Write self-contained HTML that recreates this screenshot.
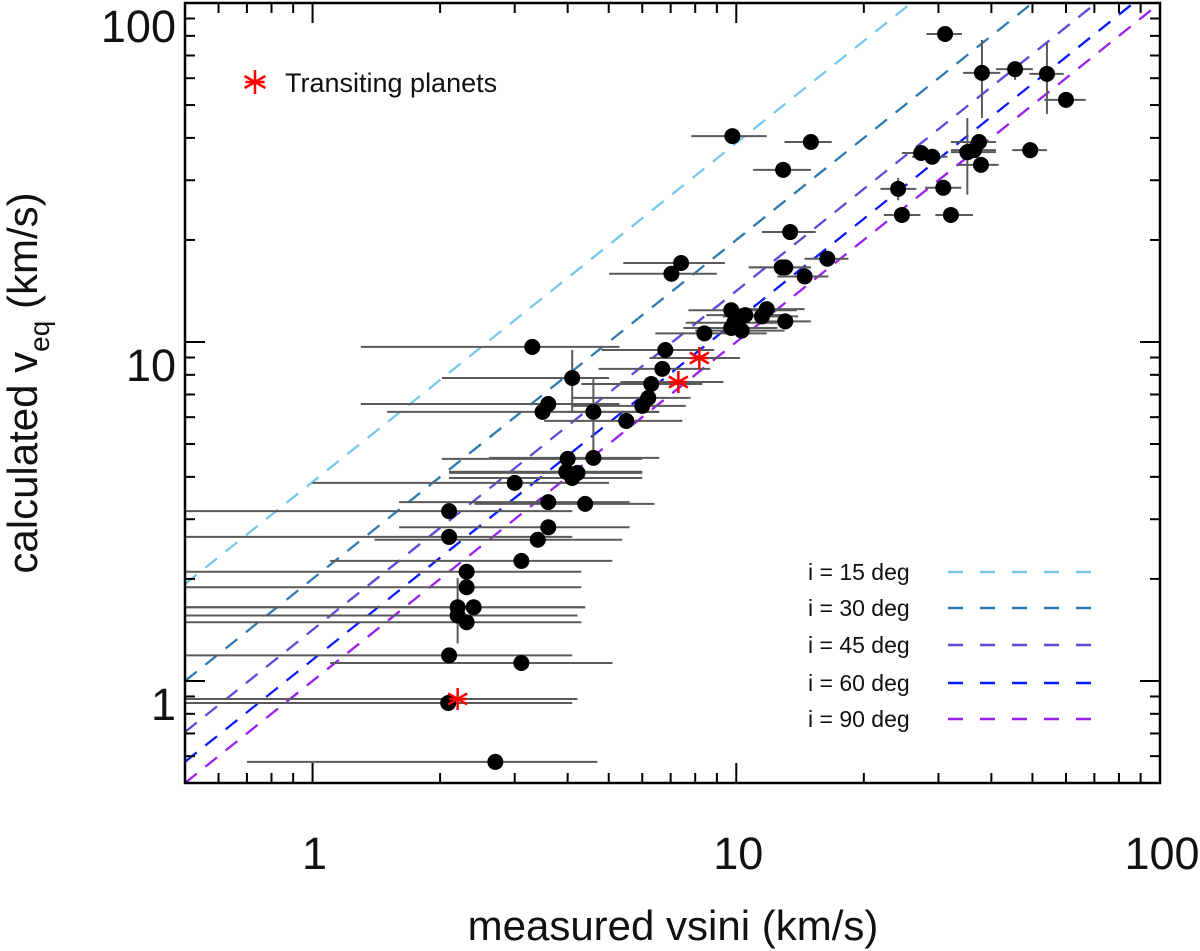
<!DOCTYPE html>
<html><head><meta charset="utf-8"><style>
html,body{margin:0;padding:0;background:#fff;}
svg{display:block;font-family:"Liberation Sans",sans-serif;}
</style></head><body>
<svg id="chart" width="1200" height="951" viewBox="0 0 1200 951" xmlns="http://www.w3.org/2000/svg">
<g id="lines"></g>
<g id="errs"></g>
<g id="pts"></g>
<g id="axes"></g>
<g id="legend"></g>
<text x="673" y="940" font-size="42" text-anchor="middle" fill="#111">measured vsini (km/s)</text>
<text transform="translate(37,383) rotate(-90)" font-size="42" text-anchor="middle" fill="#111">calculated v<tspan font-size="28" dy="12">eq</tspan><tspan dy="-12"> (km/s)</tspan></text>
</svg>
<script>
// data
const vsini   = [3.30,4.10,3.60,3.49,4.60,5.50,4.00,4.60,3.97,4.22,4.10,3.00,3.60,4.40,2.10,3.60,2.10,3.40,3.11,2.31,2.31,2.20,2.40,2.20,2.31,2.10,3.11,2.09,2.70,
  9.79,15.0,12.9,13.4,7.41,7.03,16.4,12.8,13.05,14.5,9.73,10.5,11.8,11.5,13.05,9.89,9.73,10.3,8.41,6.80,6.69,6.30,6.20,6.00,
  31.1,38.0,45.5,54.1,60.0,37.4,36.4,35.1,37.8,49.4,27.3,29.0,24.1,30.8,24.6,32.1];
const veq     = [9.67,7.83,6.56,6.22,6.22,5.85,4.52,4.55,4.14,4.11,3.97,3.84,3.37,3.33,3.17,2.84,2.66,2.61,2.26,2.10,1.89,1.65,1.65,1.56,1.49,1.19,1.13,0.861,0.577,
  40.5,38.9,32.2,21.1,17.1,15.9,17.6,16.6,16.6,15.6,12.4,12.0,12.5,11.9,11.5,11.4,11.0,10.8,10.6,9.47,8.33,7.52,6.84,6.48,
  81.0,62.2,63.8,61.8,51.8,38.9,36.8,36.3,33.3,36.8,36.1,35.2,28.3,28.5,23.7,23.7];
const vsiniLo = [1.30,2.02,1.30,1.50,4.00,3.52,2.02,2.61,2.10,2.10,2.10,1.00,1.60,2.41,0.50,1.60,0.50,1.40,1.10,0.50,0.50,0.50,0.50,0.50,0.50,0.50,1.10,0.50,0.70,
  7.83,13.0,10.96,11.5,5.41,5.01,14.5,10.7,10.7,12.5,7.71,8.5,9.5,9.3,11.1,7.6,7.5,8.0,6.44,4.81,4.73,4.31,4.10,4.10,
  28.1,34.3,41.0,49.2,53.3,32.1,32.1,32.1,33.4,44.8,24.6,26.0,21.9,27.9,22.3,29.5];
const vsiniHi = [5.30,5.01,5.30,6.58,6.58,7.46,6.00,6.58,6.00,6.00,6.00,5.01,5.60,6.41,4.10,5.60,4.10,5.38,5.10,4.31,4.31,4.40,4.40,4.22,4.31,4.10,5.10,4.10,4.70,
  11.8,16.8,15.0,15.4,9.40,9.00,18.4,15.0,15.0,16.5,13.9,13.0,14.5,14.0,15.0,12.5,12.5,13.0,11.8,8.87,8.68,8.32,7.80,7.60,
  34.1,42.0,50.1,59.3,66.8,41.0,41.0,41.0,41.6,54.1,29.5,31.5,26.6,34.0,27.2,36.2];
const veqLo   = [null,6.22,null,null,4.55,null,null,null,null,null,null,null,null,null,null,null,null,null,null,null,null,1.29,null,null,null,null,null,null,null,
  null,null,null,null,null,null,null,null,null,null,null,null,null,null,null,null,null,null,null,null,null,null,null,null,
  null,45.8,59.3,47.1,null,null,null,27.2,null,null,null,null,26.2,null,null,null];
const veqHi   = [null,9.47,null,null,7.83,null,null,null,null,null,null,null,null,null,null,null,null,null,null,null,null,2.01,null,null,null,null,null,null,null,
  null,null,null,null,null,null,null,null,null,null,null,null,null,null,null,null,null,null,null,null,null,null,null,null,
  null,77.8,67.0,76.2,null,null,null,45.8,null,null,null,null,30.5,null,null,null];
const starVsini = [2.20,8.18,7.30];
const starVeq   = [0.885,8.97,7.62];
const starLo    = [0.50,6.24,5.33];
const starHi    = [4.22,10.2,9.32];
const incl = [15,30,45,60,90];
const inclColors = ["#78c8ea","#2f78b0","#6048d8","#0a1aff","#9a1ff0"];
const xTicks = [1,10,100];
const yTicks = [1,10,100];
const xTickLabels = ["1","10","100"];
const yTickLabels = ["1","10","100"];

const L=185,R=1160,T=3,B=783, XMIN=0.5,XMAX=100,YMIN=0.5,YMAX=100;
const lx=v=>L+(Math.log10(v)-Math.log10(XMIN))/(Math.log10(XMAX)-Math.log10(XMIN))*(R-L);
const ly=v=>B-(Math.log10(v)-Math.log10(YMIN))/(Math.log10(YMAX)-Math.log10(YMIN))*(B-T);
const NS="http://www.w3.org/2000/svg";
function mk(tag,parent,attrs){const e=document.createElementNS(NS,tag);for(const k in attrs)e.setAttribute(k,attrs[k]);parent.appendChild(e);return e;}

const gl=document.getElementById('lines');
incl.forEach((d,i)=>{
  const s=Math.sin(d*Math.PI/180);
  let x0=XMIN, y0=XMIN/s;
  let x1=Math.min(XMAX, YMAX*s), y1=x1/s;
  const ln=mk('line',gl,{x1:lx(x0),y1:ly(y0),x2:lx(x1),y2:ly(y1),stroke:inclColors[i],'stroke-width':2.3,'stroke-dasharray':'15 11'});
  
  
});

const ge=document.getElementById('errs');
vsini.forEach((v,i)=>{
  const h=mk('line',ge,{x1:lx(Math.max(vsiniLo[i],XMIN)),x2:lx(vsiniHi[i]),y1:ly(veq[i]),y2:ly(veq[i]),stroke:'#5a5a5a','stroke-width':2});
  
  
  if(veqLo[i]!==null){
    const vv=mk('line',ge,{x1:lx(v),x2:lx(v),y1:ly(veqLo[i]),y2:ly(veqHi[i]),stroke:'#5a5a5a','stroke-width':2});
    
    
  }
});
starVsini.forEach((v,i)=>{
  const h=mk('line',ge,{x1:lx(Math.max(starLo[i],XMIN)),x2:lx(starHi[i]),y1:ly(starVeq[i]),y2:ly(starVeq[i]),stroke:'#5a5a5a','stroke-width':2});
  
  
});

const gp=document.getElementById('pts');
vsini.forEach((v,i)=>{
  const c=mk('circle',gp,{cx:lx(v),cy:ly(veq[i]),r:8,fill:'#000'});
  
  
});
function asterisk(parent,cx,cy,r){
  const g=mk('g',parent,{stroke:'#f00','stroke-width':2.5});
  [90,30,150].forEach(a=>{const t=a*Math.PI/180;
    mk('line',g,{x1:cx-r*Math.cos(t),y1:cy-r*Math.sin(t),x2:cx+r*Math.cos(t),y2:cy+r*Math.sin(t)});});
  mk('line',g,{x1:cx-r*0.8,y1:cy,x2:cx+r*0.8,y2:cy});
  return g;
}
starVsini.forEach((v,i)=>{
  const g=asterisk(gp,lx(v),ly(starVeq[i]),11);
  
  
});

const ga=document.getElementById('axes');
mk('rect',ga,{x:L,y:T,width:R-L,height:B-T,fill:'none',stroke:'#000','stroke-width':2.5});
for(let e=-1;e<=2;e++){for(let m=1;m<=9;m++){
  const v=m*Math.pow(10,e);
  const major=(m===1);
  const len=major?20:10;
  if(v>=XMIN&&v<=XMAX){const x=lx(v);
    mk('line',ga,{x1:x,x2:x,y1:B,y2:B-len,stroke:'#000','stroke-width':2});
    mk('line',ga,{x1:x,x2:x,y1:T,y2:T+len,stroke:'#000','stroke-width':2});}
  if(v>=YMIN&&v<=YMAX){const y=ly(v);
    mk('line',ga,{x1:L,x2:L+len,y1:y,y2:y,stroke:'#000','stroke-width':2});
    mk('line',ga,{x1:R,x2:R-len,y1:y,y2:y,stroke:'#000','stroke-width':2});}
}}
xTicks.forEach((v,i)=>{
  const t=mk('text',ga,{x:lx(v)+2,y:869,'font-size':45,'text-anchor':'middle',fill:'#111'});
  t.textContent=xTickLabels[i];
  
  
});
yTicks.forEach((v,i)=>{
  const t=mk('text',ga,{x:176,y:ly(v)+39,'font-size':45,'text-anchor':'end',fill:'#111'});
  t.textContent=yTickLabels[i];
  
  
});

const lg=document.getElementById('legend');
const ls=asterisk(lg,255,82,12);


const lt=mk('text',lg,{x:285,y:92,'font-size':27,fill:'#111'});
lt.textContent='Transiting planets';


const rowY=[572,608,645,683,719];
incl.forEach((d,i)=>{
  const t=mk('text',lg,{x:808,y:rowY[i]+8,'font-size':23,fill:'#111'});
  t.textContent='i = '+d+' deg';
  
  
  const l=mk('line',lg,{x1:948,x2:1094,y1:rowY[i],y2:rowY[i],stroke:inclColors[i],'stroke-width':2.5,'stroke-dasharray':'15 17'});
  
  
});
</script>
</body></html>
